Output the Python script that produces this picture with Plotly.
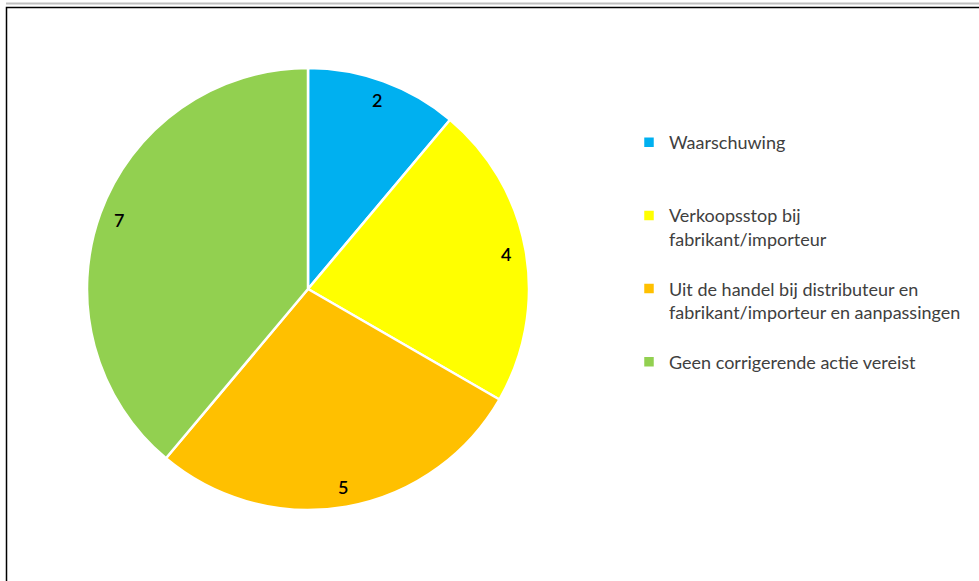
import math
import plotly.graph_objects as go

# Corrective actions and number of cases per action
labels = [
    "Waarschuwing",
    "Verkoopsstop bij<br>fabrikant/importeur",
    "Uit de handel bij distributeur en<br>fabrikant/importeur en aanpassingen",
    "Geen corrigerende actie vereist",
]
values = [2, 4, 5, 7]
colors = ["#00B0F0", "#FFFF00", "#FFC000", "#92D050"]

W, H = 979, 581
FONT = "Lato, 'Open Sans', sans-serif"

# Pie placement in pixels (converted to paper fractions below)
cx_px, cy_px, r_px = 308, 289, 221
dom_x = [(cx_px - r_px) / W, (cx_px + r_px) / W]
dom_y = [1 - (cy_px + r_px) / H, 1 - (cy_px - r_px) / H]

# Pad each legend entry to three lines so entries are evenly spaced
legend_labels = []
for lab in labels:
    n = lab.count("<br>") + 1
    legend_labels.append(lab + "<br> " * (3 - n))

fig = go.Figure(
    go.Pie(
        labels=legend_labels,
        values=values,
        sort=False,
        direction="clockwise",
        rotation=0,
        marker=dict(colors=colors, line=dict(color="white", width=2.5)),
        textinfo="none",
        hoverinfo="label+value",
        domain=dict(x=dom_x, y=dom_y),
    )
)

# Value labels near the outer edge of each slice, at its mid-angle
total = sum(values)
cum = 0
for v in values:
    mid = (cum + v / 2) / total * 2 * math.pi
    cum += v
    rr = 0.91 * r_px
    px = cx_px + rr * math.sin(mid)
    py = cy_px - rr * math.cos(mid)
    fig.add_annotation(
        x=px / W, y=1 - py / H, xref="paper", yref="paper",
        xanchor="center", yanchor="middle",
        text=str(v), showarrow=False,
        font=dict(family=FONT, size=18, color="#000000", weight=600),
    )

# Chart frame with a light line above it
fig.add_shape(type="line", xref="paper", yref="paper",
              x0=6 / W, x1=1.01, y0=1 - 3.5 / H, y1=1 - 3.5 / H,
              line=dict(color="#BFBFBF", width=2))
fig.add_shape(type="rect", xref="paper", yref="paper",
              x0=6.5 / W, x1=1.02, y0=-0.02, y1=1 - 7.5 / H,
              line=dict(color="#000000", width=1.5))

fig.update_layout(
    width=W, height=H,
    margin=dict(l=0, r=0, t=0, b=0),
    paper_bgcolor="white",
    plot_bgcolor="white",
    showlegend=True,
    legend=dict(
        x=629 / W, y=1 - 124 / H, xanchor="left", yanchor="top",
        valign="top",
        font=dict(family=FONT, size=18, color="#404040"),
        itemwidth=30,
        tracegroupgap=0,
        bgcolor="rgba(0,0,0,0)",
    ),
)

fig.write_html("out.html")
